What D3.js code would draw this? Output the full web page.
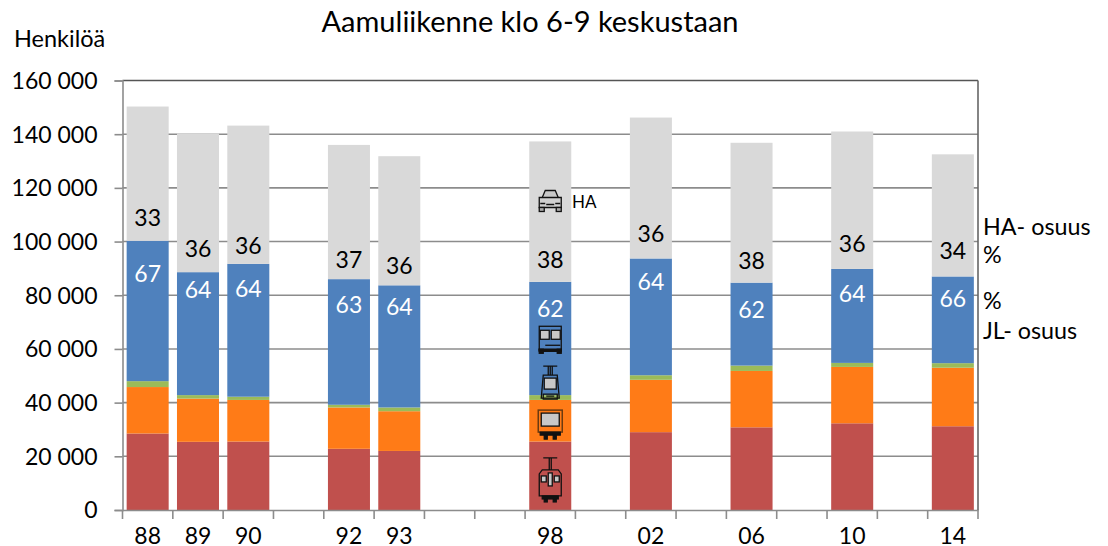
<!DOCTYPE html>
<html>
<head>
<meta charset="utf-8">
<script src="https://cdn.jsdelivr.net/npm/d3@7"></script>
<style>
body { margin: 0; background: #fff; }
text { font-family: Lato, "Open Sans", sans-serif; }
</style>
</head>
<body>
<script>
const width = 1108;
const height = 546;

// blank slots keep the uneven year spacing of the original
const categories = ["88", "89", "90", "91", "92", "93", "94", "95", "98", "99", "02", "03", "06", "07", "10", "11", "14"];
const years = ["88", "89", "90", "92", "93", "98", "02", "06", "10", "14"];
const yTicks = [0, 20000, 40000, 60000, 80000, 100000, 120000, 140000, 160000];

// persons per mode, bottom to top
const raitio = [28500, 25400, 25500, 22800, 22000, 25500, 29000, 30800, 32300, 31200];
const metro = [17300, 16100, 15500, 15400, 14800, 15500, 19500, 21000, 21000, 21800];
const juna = [2200, 1300, 1200, 1000, 1400, 1800, 1700, 2000, 1500, 1700];
const bussi = [52300, 45800, 49500, 46800, 45500, 42200, 43500, 30900, 35000, 32300];
const auto = [50000, 51700, 51500, 50000, 48100, 52300, 52500, 52100, 51200, 45500];

const haShare = [33, 36, 36, 37, 36, 38, 36, 38, 36, 34];
const jlShare = [67, 64, 64, 63, 64, 62, 64, 62, 64, 66];

const seriesKeys = ["raitio", "metro", "juna", "bussi", "auto"];
const colors = ["#c0504d", "#ff7b17", "#9bbb59", "#4f81bd", "#d9d9d9"];

const table = years.map((y, i) => ({
    year: y, raitio: raitio[i], metro: metro[i], juna: juna[i], bussi: bussi[i], auto: auto[i]
}));

const left = 122.5, right = 978, top_ = 80.5, bottom = 510;

const x = d3.scaleBand().domain(categories).range([left, right]).paddingInner(0.165).paddingOuter(0.0825);
const y = d3.scaleLinear().domain([0, 160000]).range([bottom, top_]);
const slot = (right - left) / categories.length;

let svg = d3.select("body").append("svg").attr("width", width).attr("height", height).style("display", "block");

// gridlines
svg.append("g").selectAll("line").data(yTicks.filter(d => d > 0)).enter().append("line")
    .attr("x1", left).attr("x2", right)
    .attr("y1", d => y(d)).attr("y2", d => y(d))
    .attr("stroke", d => d === 160000 ? "#555" : "#8c8c8c").attr("stroke-width", 1.6);

// stacked bars
const stacked = d3.stack().keys(seriesKeys)(table);
svg.append("g").selectAll("g").data(stacked).enter().append("g")
    .attr("fill", (d, i) => colors[i])
    .selectAll("rect").data(d => d).enter().append("rect")
    .attr("x", d => x(d.data.year))
    .attr("width", x.bandwidth())
    .attr("y", d => y(d[1]))
    .attr("height", d => y(d[0]) - y(d[1]));

// y axis
const yAxis = d3.axisLeft(y).tickValues(yTicks).tickSize(8).tickPadding(17)
    .tickFormat(d => d3.format(",")(d).replace(",", " "));
const yG = svg.append("g").attr("transform", `translate(${left},0)`).call(yAxis);
yG.selectAll("text").attr("font-size", 23).attr("fill", "#000").attr("dy", "0.34em");

// x axis, ticks sit on the slot edges
const xAxis = d3.axisBottom(x).tickSize(0).tickPadding(18).tickFormat(d => years.includes(d) ? d : "");
const xG = svg.append("g").attr("transform", `translate(0,${bottom})`).call(xAxis);
xG.selectAll("text").attr("font-size", 23).attr("fill", "#000").attr("dy", "0.71em");
xG.selectAll(".edge").data(d3.range(categories.length + 1)).enter().append("line")
    .attr("x1", d => left + d * slot).attr("x2", d => left + d * slot)
    .attr("y1", 0).attr("y2", 9)
    .attr("stroke", "#8c8c8c").attr("stroke-width", 1.6);

svg.selectAll(".domain").attr("stroke", "#8c8c8c").attr("stroke-width", 1.6);
yG.selectAll(".tick line").attr("stroke", "#8c8c8c").attr("stroke-width", 1.6);

// right border of the plot
svg.append("line").attr("x1", right).attr("x2", right).attr("y1", top_).attr("y2", bottom)
    .attr("stroke", "#666").attr("stroke-width", 1.6);

// share labels, hand placed relative to the top of the blue segment
const blueTop = i => y(stacked[3][i][1]);
const haOffset = [-23, -23, -18, -19, -19, -22, -25, -22, -25, -26];
const jlOffset = [33, 18, 25, 26, 22, 27, 23, 27, 25, 22];

svg.append("g").selectAll("text").data(haShare).enter().append("text")
    .attr("x", (d, i) => x(years[i]) + x.bandwidth() / 2)
    .attr("y", (d, i) => blueTop(i) + haOffset[i])
    .attr("dy", "0.35em").attr("text-anchor", "middle")
    .attr("font-size", 23).attr("fill", "#000").text(d => d);

svg.append("g").selectAll("text").data(jlShare).enter().append("text")
    .attr("x", (d, i) => x(years[i]) + x.bandwidth() / 2)
    .attr("y", (d, i) => blueTop(i) + jlOffset[i])
    .attr("dy", "0.35em").attr("text-anchor", "middle")
    .attr("font-size", 23).attr("fill", "#fff").text(d => d);

// title and side notes
function note(str, px, py, size, anchor) {
    svg.append("text").attr("x", px).attr("y", py).attr("font-size", size)
        .attr("text-anchor", anchor || "start").attr("fill", "#000").text(str);
}
note("Aamuliikenne klo 6-9 keskustaan", 530, 32, 29, "middle");
note("Henkilöä", 14, 47, 23.5);
note("HA- osuus", 983, 235, 23.3);
note("%", 983, 263, 23.3);
note("%", 983, 309, 23.3);
note("JL- osuus", 983, 339, 23.3);
note("HA", 572, 208, 17);

// mode icons in the 98 column
const iconX = x("98") + x.bandwidth() / 2;
function icon(value, draw) {
    const g = svg.append("g").attr("transform", `translate(${iconX},${y(value)})`)
        .attr("fill", "none").attr("stroke", "#111").attr("stroke-width", 1.3);
    draw(g);
}
const box = (g, x0, y0, w, h, fill) => g.append("rect").attr("x", x0).attr("y", y0).attr("width", w).attr("height", h).attr("fill", fill || "none");
const path = (g, d, fill) => g.append("path").attr("d", d).attr("fill", fill || "none");

// car
icon(115300, g => {
    path(g, "M-8,-3 L-5,-10 L5,-10 L8,-3", "#c8c8c8");
    path(g, "M-11,-3 H11 V7 H-11 Z", "#d0d0d0");
    box(g, -11, 7, 5, 4, "#aaa");
    box(g, 6, 7, 5, 4, "#aaa");
    path(g, "M-10,3 H-5 M5,3 H10 M-4,4 H4");
});
// bus
icon(63600, g => {
    box(g, -11, -13, 22, 24, "none");
    box(g, -10, -9, 9, 9, "#c8c8c8");
    box(g, 1, -9, 9, 9, "#c8c8c8");
    path(g, "M-5,6 H10");
    box(g, -11, 10, 4, 4, "#111");
    box(g, 7, 10, 4, 4, "#111");
    path(g, "M-11,10 H11 V12 H-11 Z", "#111");
});
// light rail
icon(46900, g => {
    path(g, "M-7,-18 H7 M0,-18 V-9 M-2,-18 V-9 M2,-18 V-9");
    path(g, "M-7,-9 H7 L9,14 H-9 Z");
    box(g, -6, -6, 12, 11, "#c8c8c8");
    path(g, "M-7,10 H7 V15 H-7 Z M-4,12 H4");
});
// metro
icon(32000, g => {
    box(g, -12, -14, 24, 22, "none").attr("stroke", "#6b3a10").attr("stroke-width", 1.5);
    box(g, -9, -11, 18, 13, "#c8c8c8");
    path(g, "M-10,8 H10 V11 H-10 Z", "#111");
    box(g, -6, 11, 3, 4, "#111");
    box(g, 3, 11, 3, 4, "#111");
});
// tram
icon(11200, g => {
    path(g, "M-7,-22 H7 M-1,-22 V-10 M1,-22 V-10");
    path(g, "M-8,-10 H8 L11,-6 V16 H-11 V-6 Z");
    box(g, -9, -4, 5, 6, "#c8c8c8");
    box(g, 4, -4, 5, 6, "#c8c8c8");
    box(g, -2, -7, 4, 13, "#c8c8c8");
    box(g, -8, 16, 16, 3, "#111").attr("fill", "#111");
    box(g, -6, 19, 3, 3, "#111");
    box(g, 3, 19, 3, 3, "#111");
});
</script>
</body>
</html>
